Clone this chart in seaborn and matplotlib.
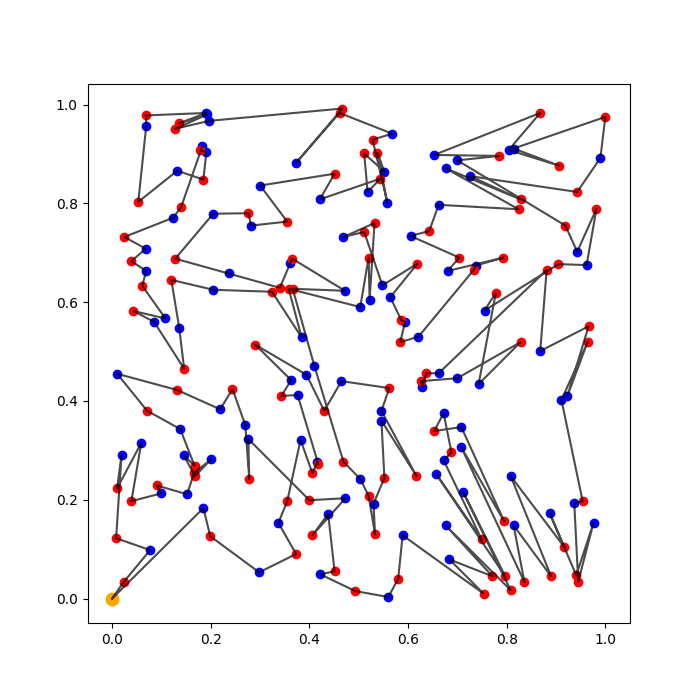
import matplotlib
matplotlib.use('Agg')
import matplotlib.pyplot as plt
import seaborn as sns

# paradas na ordem da rota: D = deposito, R = entrega, B = coleta
rota_x = [0.000, 0.023, 0.077, 0.008, 0.019, 0.010, 0.059, 0.039, 0.100, 0.090,
          0.152, 0.166, 0.201, 0.168, 0.145, 0.167, 0.138, 0.071, 0.010, 0.132,
          0.219, 0.244, 0.270, 0.278, 0.276, 0.400, 0.473, 0.406, 0.438, 0.451,
          0.422, 0.493, 0.560, 0.580, 0.589, 0.753, 0.684, 0.771, 0.676, 0.808,
          0.712, 0.797, 0.657, 0.749, 0.672, 0.688, 0.672, 0.653, 0.708, 0.795,
          0.708, 0.836, 0.814, 0.890, 0.808, 0.917, 0.887, 0.941, 0.976, 0.945,
          0.937, 0.954, 0.911, 0.964, 0.923, 0.966, 0.868, 0.881, 0.662, 0.637,
          0.629, 0.626, 0.700, 0.828, 0.743, 0.778, 0.755, 0.905, 0.962, 0.982,
          0.943, 0.919, 0.700, 0.785, 0.653, 0.868, 0.804, 0.907, 0.814, 1.000,
          0.990, 0.943, 0.726, 0.828, 0.676, 0.824, 0.662, 0.643, 0.605, 0.704,
          0.680, 0.793, 0.737, 0.733, 0.621, 0.584, 0.594, 0.586, 0.564, 0.619,
          0.548, 0.511, 0.469, 0.532, 0.522, 0.520, 0.503, 0.358, 0.384, 0.324,
          0.205, 0.120, 0.136, 0.146, 0.085, 0.043, 0.108, 0.061, 0.069, 0.039,
          0.068, 0.025, 0.124, 0.140, 0.183, 0.179, 0.191, 0.185, 0.132, 0.053,
          0.069, 0.069, 0.191, 0.136, 0.193, 0.128, 0.197, 0.467, 0.373, 0.461,
          0.568, 0.528, 0.558, 0.538, 0.552, 0.511, 0.518, 0.544, 0.421, 0.451,
          0.300, 0.355, 0.282, 0.276, 0.205, 0.128, 0.236, 0.340, 0.361, 0.365,
          0.472, 0.366, 0.410, 0.469, 0.503, 0.520, 0.533, 0.530, 0.552, 0.546,
          0.617, 0.546, 0.562, 0.465, 0.430, 0.394, 0.290, 0.363, 0.343, 0.376,
          0.418, 0.416, 0.406, 0.382, 0.355, 0.337, 0.373, 0.298, 0.199, 0.185]
rota_y = [0.000, 0.033, 0.098, 0.122, 0.290, 0.223, 0.315, 0.197, 0.213, 0.229,
          0.211, 0.254, 0.282, 0.248, 0.290, 0.269, 0.343, 0.380, 0.455, 0.422,
          0.383, 0.424, 0.351, 0.242, 0.323, 0.199, 0.203, 0.128, 0.171, 0.055,
          0.049, 0.015, 0.003, 0.040, 0.128, 0.010, 0.079, 0.045, 0.148, 0.017,
          0.215, 0.045, 0.252, 0.120, 0.280, 0.296, 0.375, 0.339, 0.347, 0.156,
          0.306, 0.033, 0.148, 0.045, 0.248, 0.104, 0.173, 0.047, 0.153, 0.034,
          0.193, 0.197, 0.402, 0.519, 0.410, 0.551, 0.501, 0.665, 0.456, 0.456,
          0.429, 0.440, 0.446, 0.519, 0.434, 0.619, 0.583, 0.677, 0.675, 0.789,
          0.702, 0.755, 0.887, 0.896, 0.898, 0.983, 0.908, 0.876, 0.911, 0.975,
          0.892, 0.823, 0.855, 0.808, 0.871, 0.788, 0.797, 0.744, 0.734, 0.690,
          0.663, 0.690, 0.674, 0.665, 0.530, 0.519, 0.560, 0.564, 0.610, 0.678,
          0.634, 0.742, 0.732, 0.760, 0.605, 0.690, 0.590, 0.627, 0.529, 0.621,
          0.625, 0.645, 0.548, 0.465, 0.560, 0.582, 0.567, 0.633, 0.663, 0.683,
          0.708, 0.732, 0.771, 0.793, 0.916, 0.907, 0.904, 0.848, 0.866, 0.803,
          0.956, 0.978, 0.983, 0.962, 0.980, 0.951, 0.967, 0.992, 0.882, 0.983,
          0.941, 0.929, 0.801, 0.902, 0.864, 0.901, 0.823, 0.850, 0.808, 0.860,
          0.836, 0.763, 0.755, 0.780, 0.779, 0.688, 0.658, 0.629, 0.679, 0.688,
          0.623, 0.627, 0.471, 0.277, 0.242, 0.208, 0.130, 0.192, 0.244, 0.360,
          0.248, 0.380, 0.426, 0.440, 0.380, 0.453, 0.514, 0.442, 0.410, 0.412,
          0.272, 0.276, 0.254, 0.321, 0.197, 0.153, 0.090, 0.053, 0.126, 0.183]
rota_tipo = list('DRBRBRBRBRBRBRBRBRBRBRBRBRBRBRBRBRBRBRBRBRBRBRBRBR'
                 'BRBRBRBRBRBRBRBRBRBRBRBRBRBRBRBRBRBRBRBRBRBRBRBRBR'
                 'BRBRBRBRBRBRBRBRBRBRBRBRBRBRBRBRBRBRBRBRBRBRBRBRBR'
                 'BRBRBRBRBRBRBRBRBRBRBRBRBRRBRBRBRBRBRBRBRBRBRBRBRB')

def selecionar(tipo):
    xs = [x for x, t in zip(rota_x, rota_tipo) if t == tipo]
    ys = [y for y, t in zip(rota_y, rota_tipo) if t == tipo]
    return xs, ys

fig, ax = plt.subplots(figsize=(7, 7), dpi=100)

x_b, y_b = selecionar('B')
x_r, y_r = selecionar('R')
x_d, y_d = selecionar('D')

sns.scatterplot(x=x_d, y=y_d, color='orange', s=100, linewidth=0, ax=ax, zorder=2)
sns.scatterplot(x=x_b, y=y_b, color='blue', s=36, linewidth=1, edgecolor='blue', ax=ax, zorder=2)
sns.scatterplot(x=x_r, y=y_r, color='red', s=36, linewidth=1, edgecolor='red', ax=ax, zorder=2)

# fecha o ciclo voltando ao deposito
sns.lineplot(x=rota_x + rota_x[:1], y=rota_y + rota_y[:1], sort=False, estimator=None,
             color='black', alpha=0.7, linewidth=1.5, ax=ax, zorder=3)

plt.savefig('out.png', dpi=100)
